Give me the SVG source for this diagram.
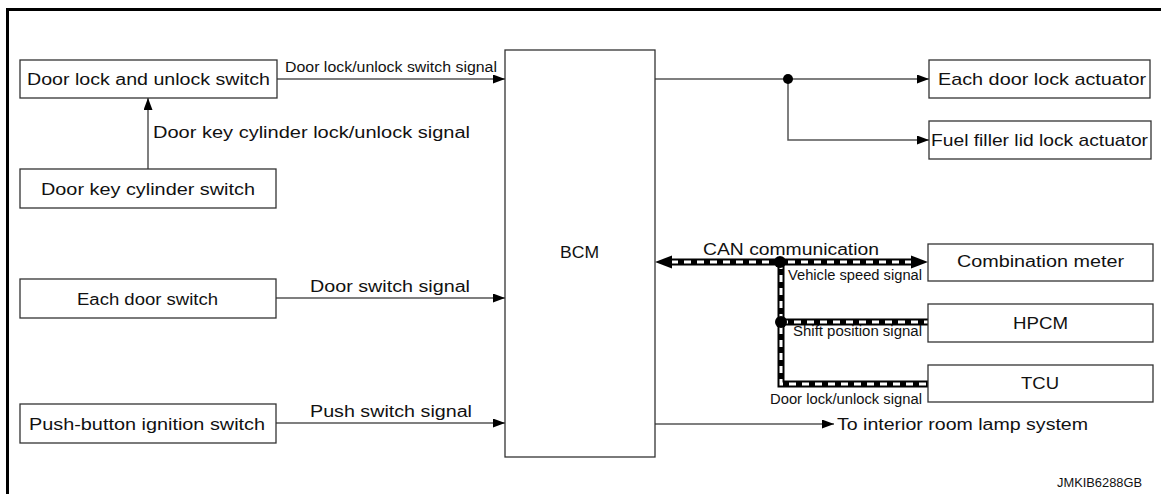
<svg xmlns="http://www.w3.org/2000/svg" width="1161" height="494" viewBox="0 0 1161 494">
<style>
text{font-family:"Liberation Sans",Arial,sans-serif;fill:#111;}
.t16{font-size:16px;}
.t14{font-size:14px;}
.t17{font-size:17px;}
.t12{font-size:12px;}
.box{fill:#fff;stroke:#333;stroke-width:1.3;}
.ln{fill:none;stroke:#555;stroke-width:1.5;}
.canb{fill:none;stroke:#000;stroke-width:7;}
.canw{fill:none;stroke:#fff;stroke-width:3;stroke-dasharray:7 6;}
</style>
<defs>
<marker id="ar" markerUnits="userSpaceOnUse" markerWidth="12" markerHeight="9" refX="12" refY="4.5" orient="auto">
<path d="M0,0 L12,4.5 L0,9 z" fill="#000"/>
</marker>
</defs>
<rect x="6" y="8" width="1155" height="3" fill="#000"/>
<rect x="6" y="8" width="3" height="486" fill="#000"/>

<g id="connectors">
<line class="ln" x1="277" y1="79" x2="505" y2="79" marker-end="url(#ar)"/>
<line class="ln" x1="148" y1="169" x2="148" y2="98" marker-end="url(#ar)"/>
<line class="ln" x1="276" y1="298" x2="505" y2="298" marker-end="url(#ar)"/>
<line class="ln" x1="276" y1="423" x2="505" y2="423" marker-end="url(#ar)"/>
<line class="ln" x1="655" y1="79" x2="929" y2="79" marker-end="url(#ar)"/>
<polyline class="ln" points="788,79 788,140 929,140" marker-end="url(#ar)"/>
<circle cx="788" cy="79" r="5" fill="#000"/>
<line class="ln" x1="655" y1="424" x2="834" y2="424" marker-end="url(#ar)"/>
<path class="canb" d="M671,262 H911 M781,262 V384 H928 M781,322 H928"/>
<path class="canw" d="M671,262 H911 M781,262 V384 H928 M781,322 H928"/>
<polygon points="655,262 672,255.5 672,268.5" fill="#000"/>
<polygon points="928,262 911,255.5 911,268.5" fill="#000"/>
<circle cx="780" cy="262" r="6" fill="#000"/>
<circle cx="781" cy="322" r="6" fill="#000"/>
<text class="t14" x="285" y="72" textLength="212" lengthAdjust="spacingAndGlyphs">Door lock/unlock switch signal</text>
<text class="t16" x="153" y="138" textLength="317" lengthAdjust="spacingAndGlyphs">Door key cylinder lock/unlock signal</text>
<text class="t16" x="310" y="292" textLength="160" lengthAdjust="spacingAndGlyphs">Door switch signal</text>
<text class="t16" x="310" y="417" textLength="162" lengthAdjust="spacingAndGlyphs">Push switch signal</text>
<text class="t16" x="703" y="255" textLength="176" lengthAdjust="spacingAndGlyphs">CAN communication</text>
<text class="t14" x="788" y="280" textLength="134" lengthAdjust="spacingAndGlyphs">Vehicle speed signal</text>
<text class="t14" x="793" y="336" textLength="129" lengthAdjust="spacingAndGlyphs">Shift position signal</text>
<text class="t14" x="770" y="404" textLength="152" lengthAdjust="spacingAndGlyphs">Door lock/unlock signal</text>
<text class="t16" x="837" y="430" textLength="251" lengthAdjust="spacingAndGlyphs">To interior room lamp system</text>
</g>

<g id="door-lock-switch">
<rect class="box" x="20" y="60" width="257" height="38"/>
<text class="t16" x="27" y="85" textLength="243" lengthAdjust="spacingAndGlyphs">Door lock and unlock switch</text>
</g>
<g id="door-key-cylinder-switch">
<rect class="box" x="20" y="169" width="256" height="39"/>
<text class="t16" x="41" y="195" textLength="214" lengthAdjust="spacingAndGlyphs">Door key cylinder switch</text>
</g>
<g id="each-door-switch">
<rect class="box" x="20" y="279" width="256" height="39"/>
<text class="t16" x="77" y="305" textLength="141" lengthAdjust="spacingAndGlyphs">Each door switch</text>
</g>
<g id="push-button-ignition-switch">
<rect class="box" x="20" y="404" width="256" height="39"/>
<text class="t16" x="29" y="430" textLength="236" lengthAdjust="spacingAndGlyphs">Push-button ignition switch</text>
</g>
<g id="bcm">
<rect class="box" x="505" y="50" width="150" height="407"/>
<text class="t16" x="560" y="258" textLength="39" lengthAdjust="spacingAndGlyphs">BCM</text>
</g>
<g id="each-door-lock-actuator">
<rect class="box" x="929" y="60" width="221" height="38"/>
<text class="t17" x="938" y="85" textLength="208" lengthAdjust="spacingAndGlyphs">Each door lock actuator</text>
</g>
<g id="fuel-filler-lid-lock-actuator">
<rect class="box" x="929" y="121" width="222" height="38"/>
<text class="t17" x="931" y="146" textLength="217" lengthAdjust="spacingAndGlyphs">Fuel filler lid lock actuator</text>
</g>
<g id="combination-meter">
<rect class="box" x="928" y="244" width="225" height="37"/>
<text class="t16" x="957" y="267" textLength="167" lengthAdjust="spacingAndGlyphs">Combination meter</text>
</g>
<g id="hpcm">
<rect class="box" x="928" y="304" width="225" height="38"/>
<text class="t16" x="1013" y="329" textLength="55" lengthAdjust="spacingAndGlyphs">HPCM</text>
</g>
<g id="tcu">
<rect class="box" x="928" y="365" width="225" height="37"/>
<text class="t16" x="1021" y="389" textLength="38" lengthAdjust="spacingAndGlyphs">TCU</text>
</g>
<text class="t12" x="1057" y="487" textLength="85" lengthAdjust="spacingAndGlyphs">JMKIB6288GB</text>
</svg>
